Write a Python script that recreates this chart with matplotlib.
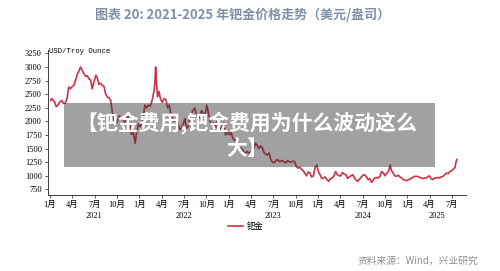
import matplotlib
matplotlib.use("Agg")
import matplotlib.pyplot as plt
import matplotlib.transforms as mtransforms
from matplotlib.patches import Rectangle
import pandas as pd

# palladium price, USD/Troy Ounce
dates = [
    "2021-01-04", "2021-01-08", "2021-01-14", "2021-01-20", "2021-01-27", "2021-02-03", "2021-02-10",
    "2021-02-17", "2021-02-24", "2021-03-03", "2021-03-10", "2021-03-17", "2021-03-24", "2021-03-31",
    "2021-04-07", "2021-04-14", "2021-04-21", "2021-04-28", "2021-05-04", "2021-05-11", "2021-05-18",
    "2021-05-25", "2021-06-01", "2021-06-08", "2021-06-15", "2021-06-21", "2021-06-28", "2021-07-06",
    "2021-07-12", "2021-07-19", "2021-07-26", "2021-08-02", "2021-08-09", "2021-08-16", "2021-08-23",
    "2021-08-30", "2021-09-06", "2021-09-13", "2021-09-20", "2021-09-27", "2021-10-04", "2021-10-11",
    "2021-10-18", "2021-10-25", "2021-11-01", "2021-11-08", "2021-11-15", "2021-11-22", "2021-11-29",
    "2021-12-06", "2021-12-10", "2021-12-15", "2021-12-20", "2021-12-28",
    "2022-01-04", "2022-01-10", "2022-01-17", "2022-01-24", "2022-01-31", "2022-02-07", "2022-02-14",
    "2022-02-21", "2022-02-28", "2022-03-04", "2022-03-07", "2022-03-10", "2022-03-15", "2022-03-21",
    "2022-03-28", "2022-04-04", "2022-04-11", "2022-04-18", "2022-04-25", "2022-05-02", "2022-05-09",
    "2022-05-16", "2022-05-23", "2022-05-30", "2022-06-06", "2022-06-13", "2022-06-20", "2022-06-27",
    "2022-07-05", "2022-07-11", "2022-07-18", "2022-07-25", "2022-08-01", "2022-08-08", "2022-08-15",
    "2022-08-22", "2022-08-29", "2022-09-05", "2022-09-12", "2022-09-19", "2022-09-26", "2022-10-03",
    "2022-10-10", "2022-10-17", "2022-10-24", "2022-10-31", "2022-11-07", "2022-11-14", "2022-11-21",
    "2022-11-28", "2022-12-05", "2022-12-12", "2022-12-19", "2022-12-28",
    "2023-01-04", "2023-01-11", "2023-01-18", "2023-01-25", "2023-02-01", "2023-02-08", "2023-02-15",
    "2023-02-22", "2023-03-01", "2023-03-08", "2023-03-15", "2023-03-22", "2023-03-29", "2023-04-05",
    "2023-04-12", "2023-04-19", "2023-04-26", "2023-05-03", "2023-05-10", "2023-05-17", "2023-05-24",
    "2023-05-31", "2023-06-07", "2023-06-14", "2023-06-21", "2023-06-28", "2023-07-05", "2023-07-12",
    "2023-07-19", "2023-07-26", "2023-08-02", "2023-08-09", "2023-08-16", "2023-08-23", "2023-08-30",
    "2023-09-06", "2023-09-13", "2023-09-20", "2023-09-27", "2023-10-04", "2023-10-11", "2023-10-18",
    "2023-10-25", "2023-11-01", "2023-11-08", "2023-11-15", "2023-11-22", "2023-11-29", "2023-12-06",
    "2023-12-13", "2023-12-20", "2023-12-27",
    "2024-01-03", "2024-01-10", "2024-01-17", "2024-01-24", "2024-01-31", "2024-02-07", "2024-02-14",
    "2024-02-21", "2024-02-28", "2024-03-06", "2024-03-13", "2024-03-20", "2024-03-27", "2024-04-03",
    "2024-04-10", "2024-04-17", "2024-04-24", "2024-05-01", "2024-05-08", "2024-05-15", "2024-05-22",
    "2024-05-29", "2024-06-05", "2024-06-12", "2024-06-19", "2024-06-26", "2024-07-03", "2024-07-10",
    "2024-07-17", "2024-07-24", "2024-07-31", "2024-08-07", "2024-08-14", "2024-08-21", "2024-08-28",
    "2024-09-04", "2024-09-11", "2024-09-18", "2024-09-25", "2024-10-02", "2024-10-09", "2024-10-16",
    "2024-10-23", "2024-10-28", "2024-11-04", "2024-11-11", "2024-11-18", "2024-11-25", "2024-12-02",
    "2024-12-09", "2024-12-16", "2024-12-23", "2024-12-30",
    "2025-01-06", "2025-01-13", "2025-01-20", "2025-01-27", "2025-02-03", "2025-02-10", "2025-02-17",
    "2025-02-24", "2025-03-03", "2025-03-10", "2025-03-17", "2025-03-24", "2025-03-31", "2025-04-07",
    "2025-04-14", "2025-04-21", "2025-04-28", "2025-05-05", "2025-05-12", "2025-05-19", "2025-05-26",
    "2025-06-02", "2025-06-09", "2025-06-16", "2025-06-23", "2025-06-30", "2025-07-07", "2025-07-14",
    "2025-07-18", "2025-07-22",
]
prices = [
    2380, 2420, 2390, 2360, 2270, 2300, 2360,
    2380, 2330, 2340, 2420, 2630, 2600, 2640,
    2660, 2760, 2860, 2930, 3000, 2940, 2880,
    2830, 2840, 2780, 2760, 2600, 2720, 2850,
    2800, 2680, 2700, 2660, 2640, 2500, 2450,
    2430, 2380, 2150, 2000, 1950, 2020, 2100,
    2050, 2060, 1980, 2030, 2100, 1950, 1760,
    1800, 1720, 1600, 1780, 1950,
    1900, 1950, 2050, 2300, 2250, 2300, 2280,
    2380, 2550, 2700, 3000, 2750, 2450, 2550,
    2400, 2350, 2420, 2400, 2250, 2300, 2100,
    2050, 2000, 2040, 1980, 1850, 1880, 1940,
    2050, 1870, 1900, 2050, 2150, 2200, 2250,
    2130, 2050, 2100, 2200, 2150, 2100, 2300,
    2150, 2000, 1950, 1980, 1850, 2000, 1880,
    1850, 1900, 1980, 1750, 1800,
    1750, 1800, 1700, 1650, 1650, 1620, 1520,
    1500, 1450, 1400, 1450, 1420, 1430, 1450,
    1500, 1600, 1560, 1500, 1550, 1520, 1430,
    1400, 1380, 1420, 1300, 1250, 1240, 1280,
    1300, 1260, 1270, 1280, 1250, 1240, 1280,
    1260, 1250, 1270, 1260, 1170, 1140, 1160,
    1120, 1100, 1050, 1000, 1070, 1050, 980,
    1000, 1150, 1200,
    1080, 1020, 950, 960, 980, 930, 900,
    950, 960, 1000, 1080, 1020, 1000, 1000,
    1060, 1030, 1020, 950, 980, 1000, 1020,
    960, 920, 900, 940, 980, 1010, 1020,
    980, 930, 950, 880, 920, 960, 970,
    960, 990, 1080, 1050, 1000, 1050, 1080,
    1200, 1100, 1050, 1000, 990, 1010, 980,
    960, 930, 920, 910,
    930, 940, 960, 980, 990, 990, 980,
    960, 950, 960, 960, 980, 1000, 950,
    930, 960, 960, 970, 960, 980, 990,
    1020, 1050, 1040, 1080, 1090, 1120, 1150,
    1250, 1300,
]

tick_months = list(range(0, 55, 3))
tick_labels = ["1月", "4月", "7月", "10月"] * 4 + ["1月", "4月", "7月"]
years = ["2021", "2022", "2023", "2024", "2025"]
year_pos = [5.9, 18, 30, 42, 52]
yticks = list(range(750, 3251, 250))

d = pd.to_datetime(pd.Series(dates))
x = (d.dt.year - 2021) * 12 + (d.dt.month - 1) + (d.dt.day - 1) / d.dt.days_in_month

cjk = ["Liberation Serif", "Noto Sans CJK SC"]
sans = ["Noto Sans CJK SC", "DejaVu Sans"]

fig = plt.figure(figsize=(5, 2.71), dpi=100)
ax = fig.add_axes([0.096, 0.2804, 0.836, 0.5351])

line_color = "#c8344a"
ax.plot(x, prices, color=line_color, lw=1.2, label="钯金")

ax.set_xlim(-0.27, 55.9)
ax.set_ylim(647, 3312)
ax.set_yticks(yticks)
ax.set_yticklabels([str(v) for v in yticks], family=cjk, fontsize=6)
ax.set_xticks(tick_months)
ax.set_xticklabels(tick_labels, family=cjk, fontsize=6)
ax.tick_params(axis="both", length=2.5, width=0.6, color="#404040", pad=2)
for s in ["top", "right"]:
    ax.spines[s].set_visible(False)
for s in ["left", "bottom"]:
    ax.spines[s].set_linewidth(0.7)
    ax.spines[s].set_color("#404040")

trans = mtransforms.blended_transform_factory(ax.transData, fig.transFigure)
for yr, xp in zip(years, year_pos):
    ax.text(xp, 1 - 216 / 271, yr, transform=trans, ha="center", va="center",
            family=cjk, fontsize=6)

ax.text(0.002, 0.99, "USD/Troy Ounce", transform=ax.transAxes, ha="left", va="center",
        family="Liberation Mono", fontsize=5.2)

ax.legend(loc="center", bbox_to_anchor=(246 / 500, 1 - 226 / 271), bbox_transform=fig.transFigure,
          frameon=False, prop={"family": sans, "size": 6}, handlelength=1.8, handletextpad=0.5)

fig.text(243 / 500, 1 - 15 / 271, "图表 20: 2021-2025 年钯金价格走势（美元/盎司）",
         ha="center", va="center", family=sans, fontsize=9.4, color="#8090a8", fontweight="bold")
fig.text(478 / 500, 1 - 261 / 271, "资料来源：Wind，兴业研究", ha="right", va="center",
         family=sans, fontsize=7, color="#909090")

# overlay banner
fig.patches.append(Rectangle((64 / 500, 1 - 167 / 271), 371 / 500, 64 / 271,
                             transform=fig.transFigure, facecolor="#303030", alpha=0.45,
                             edgecolor="none", zorder=5))
fig.text(247 / 500, 1 - 135 / 271, "【钯金费用,钯金费用为什么波动这么\n大】", ha="center", va="center",
         family=sans, fontsize=15, fontweight="bold", color="white", linespacing=1.25, zorder=6)

fig.savefig("out.png", dpi=100)
